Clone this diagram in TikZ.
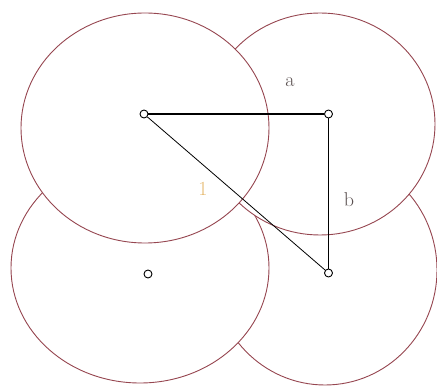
\documentclass[tikz,border=0pt]{standalone}
\definecolor{ringred}{RGB}{150,70,80}
\definecolor{oneorange}{RGB}{230,185,110}
\definecolor{labelgray}{RGB}{90,80,80}
\begin{document}
\begin{tikzpicture}[x=1pt, y=-1pt,
    ring/.style={draw=ringred, fill=white, line width=0.9pt},
    dot/.style={circle, draw, fill=white, inner sep=0pt, minimum size=8pt, line width=0.9pt},
    lbl/.style={font=\fontsize{20}{24}\selectfont, inner sep=1pt}]

        \useasboundingbox (0,0) rectangle (437,387);

        % Circles (back to front, each one hides the ones behind)
        \draw[ring] (325,270) ellipse[x radius=112, y radius=115];
        \draw[ring] (140,268) ellipse[x radius=129, y radius=115];
        \draw[ring] (320,124) ellipse[x radius=115, y radius=111];
        \draw[ring] (145,128) ellipse[x radius=124, y radius=115];

        % Centre points
        \node[dot] (tl) at (144,114) {};
        \node[dot] (tr) at (328.5,114) {};
        \node[dot] (bl) at (148,274) {};
        \node[dot] (br) at (328.5,273) {};

        % Sides of the triangle
        \draw[line width=1.8pt] (tl) -- (tr);
        \draw[line width=0.8pt] (tr) -- (br);
        \draw[line width=0.8pt] (tl) -- (br);

        % Labels
        \node[lbl, text=labelgray] (la) at (290,82) {a};
        \node[lbl, text=labelgray] (lb) at (349,200) {b};
        \node[lbl, text=oneorange] (lone) at (203,189) {1};

    \end{tikzpicture}
\end{document}
